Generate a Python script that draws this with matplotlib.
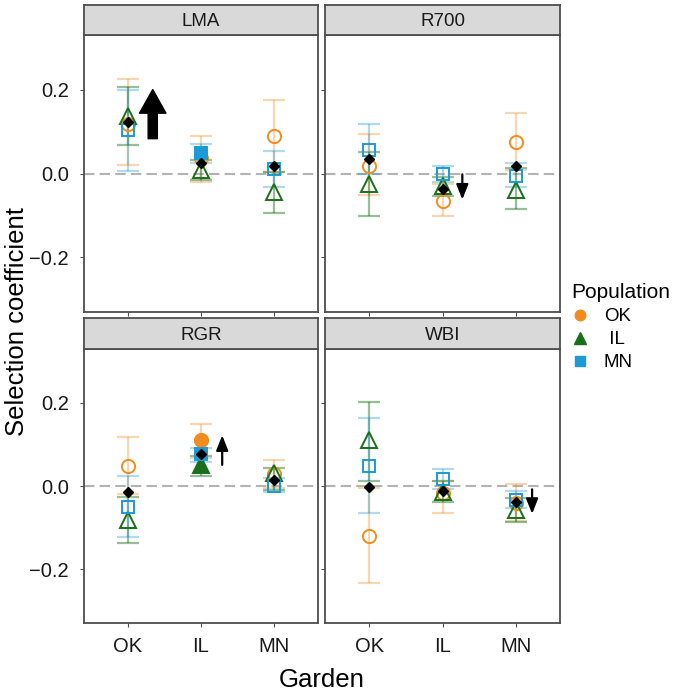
import matplotlib
matplotlib.use("Agg")
import matplotlib.pyplot as plt
from matplotlib.lines import Line2D

plt.rcParams['font.family'] = ['Liberation Sans', 'DejaVu Sans']

traits = ['LMA', 'R700', 'RGR', 'WBI']
gardens = ['OK', 'IL', 'MN']
pops = ['OK', 'IL', 'MN']

# estimates per trait, one value per garden (OK, IL, MN)
est_ok = {'LMA': [0.119, 0.038, 0.089], 'R700': [0.018, -0.066, 0.075],
          'RGR': [0.047, 0.110, 0.028], 'WBI': [-0.120, -0.016, -0.041]}
lo_ok = {'LMA': [0.020, -0.020, 0.004], 'R700': [-0.052, -0.102, 0.008],
         'RGR': [-0.020, 0.067, -0.006], 'WBI': [-0.234, -0.065, -0.085]}
hi_ok = {'LMA': [0.225, 0.090, 0.175], 'R700': [0.093, -0.024, 0.143],
         'RGR': [0.117, 0.150, 0.062], 'WBI': [-0.006, 0.012, 0.004]}

est_il = {'LMA': [0.137, 0.008, -0.044], 'R700': [-0.024, -0.030, -0.040],
          'RGR': [-0.081, 0.051, 0.031], 'WBI': [0.110, -0.015, -0.059]}
lo_il = {'LMA': [0.067, -0.016, -0.095], 'R700': [-0.101, -0.054, -0.085],
         'RGR': [-0.137, 0.025, -0.010], 'WBI': [0.012, -0.039, -0.087]}
hi_il = {'LMA': [0.205, 0.033, 0.004], 'R700': [0.052, -0.008, 0.012],
         'RGR': [-0.026, 0.072, 0.043], 'WBI': [0.203, 0.012, -0.028]}

est_mn = {'LMA': [0.103, 0.048, 0.010], 'R700': [0.057, -0.002, -0.006],
          'RGR': [-0.050, 0.076, 0.000], 'WBI': [0.049, 0.018, -0.033]}
lo_mn = {'LMA': [0.006, 0.025, -0.033], 'R700': [-0.002, -0.020, -0.033],
         'RGR': [-0.124, 0.057, -0.014], 'WBI': [-0.065, -0.008, -0.053]}
hi_mn = {'LMA': [0.200, 0.070, 0.053], 'R700': [0.117, 0.017, 0.025],
         'RGR': [0.025, 0.092, 0.019], 'WBI': [0.163, 0.042, -0.012]}

# filled marker = significant
filled_ok = {'LMA': [0, 0, 0], 'R700': [0, 0, 0], 'RGR': [0, 1, 0], 'WBI': [0, 0, 0]}
filled_il = {'LMA': [0, 0, 0], 'R700': [0, 0, 0], 'RGR': [0, 1, 0], 'WBI': [0, 0, 0]}
filled_mn = {'LMA': [0, 1, 0], 'R700': [0, 0, 0], 'RGR': [0, 1, 0], 'WBI': [0, 0, 0]}

# overall mean (black diamonds)
mean_all = {'LMA': [0.123, 0.024, 0.018], 'R700': [0.034, -0.036, 0.018],
            'RGR': [-0.014, 0.078, 0.015], 'WBI': [-0.003, -0.011, -0.038]}

# arrows: x position, start, end, big?
arrow_x = {'LMA': 1.34, 'R700': 2.27, 'RGR': 2.29, 'WBI': 3.22}
arrow_from = {'LMA': 0.083, 'R700': -0.002, 'RGR': 0.051, 'WBI': -0.008}
arrow_to = {'LMA': 0.200, 'R700': -0.062, 'RGR': 0.122, 'WBI': -0.067}
arrow_big = {'LMA': True, 'R700': False, 'RGR': False, 'WBI': False}

series = [
    # name, color, marker, size, bar alpha, est, lo, hi, filled
    ('OK', '#F28C1E', 'o', 9.5, 0.35, est_ok, lo_ok, hi_ok, filled_ok),
    ('IL', '#1A701A', '^', 11, 0.45, est_il, lo_il, hi_il, filled_il),
    ('MN', '#1B9AD6', 's', 8.5, 0.35, est_mn, lo_mn, hi_mn, filled_mn),
]

W, H = 677, 692
fig = plt.figure(figsize=(W / 100, H / 100), dpi=100)

col_x = [(84, 318), (325, 560)]
row_y = [(35, 312, 5), (349, 623, 318)]
edge = '#4d4d4d'

for i, trait in enumerate(traits):
    r, c = divmod(i, 2)
    x0, x1 = col_x[c]
    top, bot, strip_top = row_y[r]
    ax = fig.add_axes([x0 / W, 1 - bot / H, (x1 - x0) / W, (bot - top) / H])
    sx = fig.add_axes([x0 / W, 1 - top / H, (x1 - x0) / W, (top - strip_top) / H])
    sx.set_xticks([]); sx.set_yticks([])
    sx.set_facecolor('#d9d9d9')
    for s in sx.spines.values():
        s.set_color(edge); s.set_linewidth(1.3)
    sx.text(0.5, 0.45, trait, ha='center', va='center', fontsize=13.5, color='#1a1a1a',
            transform=sx.transAxes)

    xs = [1, 2, 3]
    ax.axhline(0, color='#b3b3b3', lw=1.5, ls=(0, (5, 2.5)), zorder=1)

    for name, col, mk, ms, a, est, lo, hi, filled in series:
        e = est[trait]
        yerr = [[e[k] - lo[trait][k] for k in range(3)], [hi[trait][k] - e[k] for k in range(3)]]
        ax.errorbar(xs, e, yerr=yerr, fmt='none', ecolor=col, alpha=a, elinewidth=1.6,
                    capsize=8, capthick=1.6, zorder=2)
    for name, col, mk, ms, a, est, lo, hi, filled in series:
        for k in range(3):
            fc = col if filled[trait][k] else 'none'
            ax.plot(xs[k], est[trait][k], marker=mk, ms=ms, mfc=fc, mec=col, mew=1.4,
                    ls='none', zorder=3)
    ax.plot(xs, mean_all[trait], marker='D', ms=5, color='black', ls='none', zorder=4)

    if arrow_big[trait]:
        props = dict(arrowstyle='simple,head_length=0.85,head_width=0.95,tail_width=0.33',
                     color='black', mutation_scale=20, shrinkA=0, shrinkB=0)
    else:
        props = dict(arrowstyle='-|>,head_length=0.75,head_width=0.3', color='black', lw=1.6,
                     mutation_scale=12, shrinkA=0, shrinkB=0)
    ax.annotate('', xy=(arrow_x[trait], arrow_to[trait]),
                xytext=(arrow_x[trait], arrow_from[trait]), arrowprops=props, zorder=5)

    ax.set_xlim(0.4, 3.6)
    ax.set_ylim(-0.33, 0.33)
    ax.set_xticks(xs)
    ax.set_yticks([-0.2, 0.0, 0.2])
    ax.set_yticklabels(['\u22120.2', '0.0', '0.2'])
    ax.tick_params(length=3, color='#4d4d4d', labelsize=14.5, labelcolor='#1a1a1a')
    ax.tick_params(axis='y', pad=8)
    ax.tick_params(axis='x', pad=7)
    if r == 1:
        ax.set_xticklabels(gardens)
    else:
        ax.set_xticklabels([])
    if c == 1:
        ax.set_yticklabels([])
    for s in ax.spines.values():
        s.set_color(edge); s.set_linewidth(1.3)

fig.text(17 / W, 1 - 322 / H, 'Selection coefficient', rotation=90, ha='center', va='center',
         fontsize=18.5)
fig.text(322 / W, 1 - 687 / H, 'Garden', ha='center', va='baseline', fontsize=18.5)

handles = [Line2D([], [], marker=m, ls='none', color=c_, ms=s_ * 0.8)
           for (_, c_, m, s_, *_rest) in series]
leg = fig.legend(handles, ['OK', ' IL', 'MN'], loc='upper left',
                 bbox_to_anchor=(556 / W, 1 - 268 / H), frameon=False, title='Population',
                 fontsize=13.5, title_fontsize=15, alignment='left', handlelength=1.0,
                 handletextpad=0.75, labelspacing=0.32, borderpad=0.3)

plt.savefig('out.png', dpi=100)
